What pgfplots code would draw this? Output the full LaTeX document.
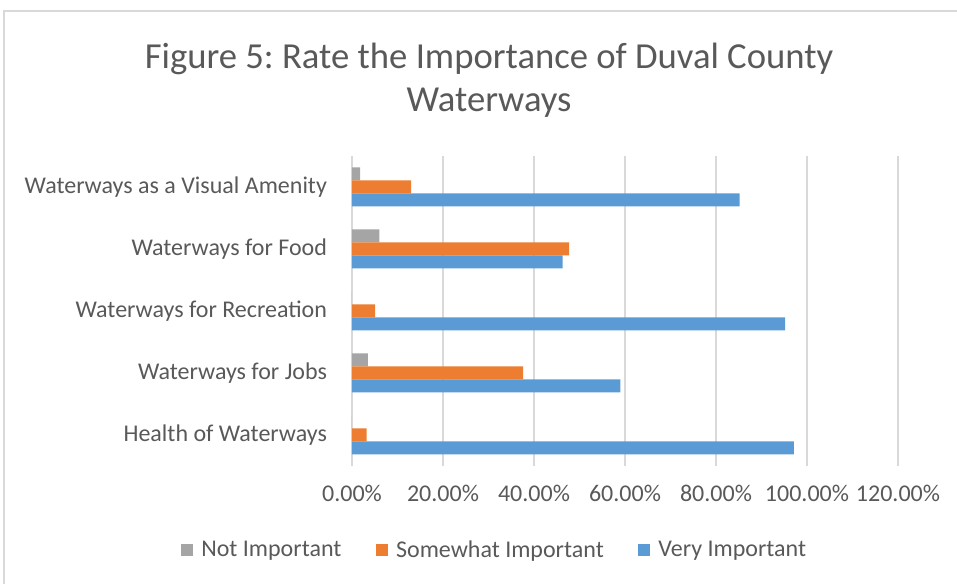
\documentclass[border=0pt]{standalone}
\usepackage{fontspec}
\setmainfont{Carlito}
\usepackage{pgfplots}
\pgfplotsset{compat=1.18}
\definecolor{txt}{HTML}{595959}
\definecolor{gridc}{HTML}{D9D9D9}
\definecolor{sgray}{HTML}{A5A5A5}
\definecolor{sorange}{HTML}{ED7D31}
\definecolor{sblue}{HTML}{5B9BD5}
\frenchspacing
\begin{document}
\begin{tikzpicture}
\useasboundingbox (0,0) rectangle (717.75pt,438pt);
\draw[gridc, line width=1.2pt] (3pt,0) -- (3pt,429.75pt) -- (717.75pt,429.75pt);
\node[txt, font=\fontsize{27.5}{32.5}\selectfont, align=center] at (366.75pt,378pt)
  {Figure 5: Rate the Importance of Duval County\\Waterways};
\begin{axis}[
  at={(264pt,88.5pt)}, anchor=south west,
  scale only axis, width=409.5pt, height=232.5pt,
  xbar, bar width=9.75pt,
  xmin=0, xmax=120,
  ymin=-0.5, ymax=4.5,
  xtick={0,20,...,120},
  xticklabel={\pgfmathprintnumber[fixed,fixed zerofill,precision=2]{\tick}\%},
  /pgf/number format/assume math mode=true,
  ytick={0,1,2,3,4},
  yticklabels={Health of Waterways,Waterways for Jobs,Waterways for Recreation,Waterways for Food,Waterways as a Visual Amenity},
  tick style={draw=none},
  axis line style={draw=none},
  xmajorgrids, grid style={gridc, line width=0.9pt},
  ticklabel style={txt, font=\fontsize{18}{20}\selectfont},
  yticklabel style={xshift=-11pt},
  xticklabel style={yshift=-11pt},
  legend style={at={(0.262,-0.271)}, anchor=center, draw=none, fill=none,
    legend columns=3, font=\fontsize{18}{20}\selectfont, text=txt,
    /tikz/every odd column/.append style={column sep=4pt},
    /tikz/every even column/.append style={column sep=24pt}},
  legend cell align=left,
  legend image code/.code={\fill[#1] (0pt,-4.5pt) rectangle (9pt,4.5pt);},
]
\addplot[fill=sgray, draw=none, bar shift=9.75pt] coordinates {
  (0,0) (3.5,1) (0,2) (6.0,3) (1.8,4)};
\addplot[fill=sorange, draw=none, bar shift=0pt] coordinates {
  (3.2,0) (37.6,1) (5.1,2) (47.7,3) (13.0,4)};
\addplot[fill=sblue, draw=none, bar shift=-9.75pt] coordinates {
  (97.1,0) (59.0,1) (95.2,2) (46.3,3) (85.2,4)};
\legend{Not Important,Somewhat Important,Very Important}
\end{axis}
\end{tikzpicture}
\end{document}
